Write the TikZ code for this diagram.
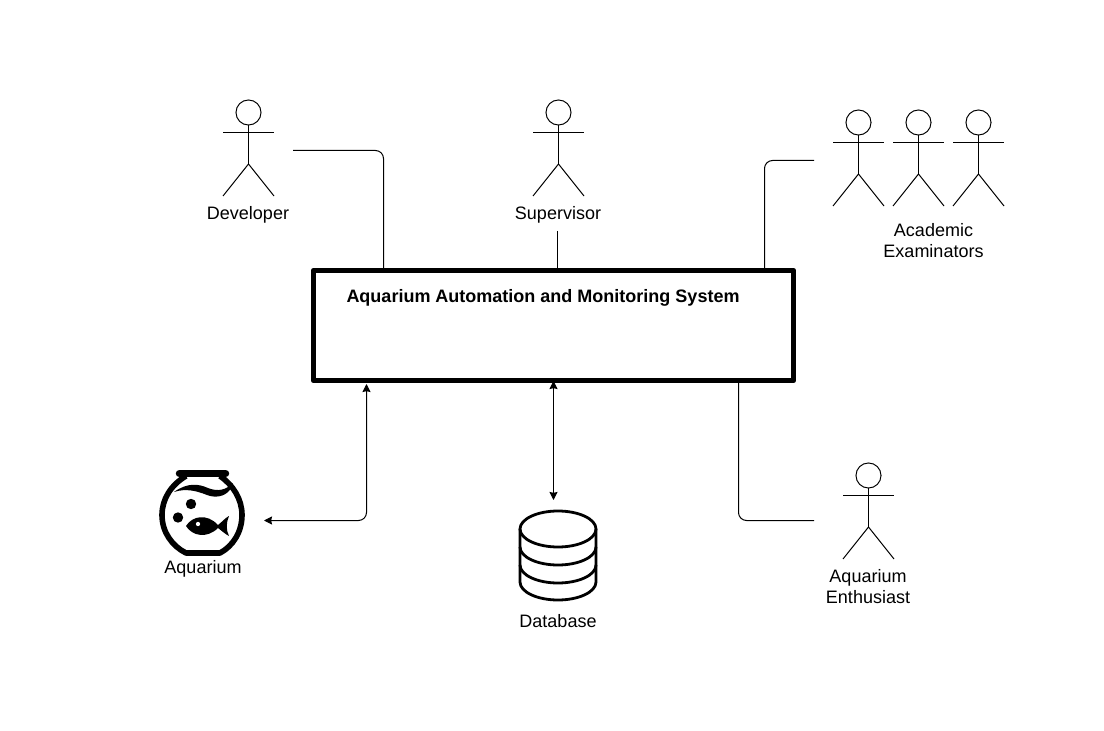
\documentclass[tikz,border=0pt]{standalone}
\usepackage{fontspec}
\setmainfont{Liberation Sans}
\usetikzlibrary {
  positioning,
  arrows.meta,
}
\tikzset{
  chart/.style = {
    x = 0.75pt,
    y = -0.75pt,
    line width = 0.75pt,
    line join = round,
  },
  caption/.style = {
    font = \fontsize{13.5pt}{15.75pt}\selectfont,
    align = center,
    inner sep = 0pt
  },
  sysbox/.style = {
    rectangle,
    draw = black,
    line width = 4.4pt,
    minimum width = 360pt,
    minimum height = 82.5pt
  },
  link/.style = {
    rounded corners = 6pt
  },
  twoway/.style = {
    {Stealth[length = 6pt, width = 6pt, inset = 0.6pt]}-{Stealth[length = 6pt, width = 6pt, inset = 0.6pt]},
    rounded corners = 6pt
  },
  stock/.style = {
    line width = 2.1pt
  },
  pics/actor/.style = {
    code = {
      \draw (0,12.5) circle [radius = 9.4pt];
      \draw (0,25) -- (0,64);
      \draw (-25.5,32.5) -- (25.5,32.5);
      \draw (-25.5,96) -- (0,64) -- (25.5,96);
    }
  },
}

\begin{document}
\begin{tikzpicture}[chart]
  \useasboundingbox (0,0) rectangle (1104,731);

  \node[sysbox] (system) at (553.5,325.5) {};
  \node[caption, font = \fontsize{13.5pt}{15.75pt}\selectfont\bfseries] (title) at (543,298) {Aquarium Automation and Monitoring System};

  % people
  \pic (developer) at (248.5,100) {actor};
  \pic (supervisor) at (558.5,100) {actor};
  \pic (examinerA) at (858.5,110) {actor};
  \pic (examinerB) at (918.5,110) {actor};
  \pic (examinerC) at (978.5,110) {actor};
  \pic (enthusiast) at (868.5,463) {actor};

  \node[caption] (devlabel) at (248,215) {Developer};
  \node[caption] (suplabel) at (558,215) {Supervisor};
  \node[caption] (examlabel) at (933.5,240.5) {Academic\\Examinators};
  \node[caption] (fishlabel) at (203,569) {Aquarium};
  \node[caption] (dblabel) at (558,621) {Database};
  \node[caption] (enthlabel) at (868,586.5) {Aquarium\\Enthusiast};

  % fish bowl
  \draw[line width = 4.2pt] (186,476) .. controls (171,485) and (162,499) .. (162,515)
    .. controls (162,532) and (172,546) .. (186,553) -- (220,553)
    .. controls (233,546) and (242,532) .. (242,515)
    .. controls (242,499) and (233,485) .. (220,476);
  \draw[line width = 5.6pt, line cap = round] (179.5,473.5) -- (225.5,473.5);
  \fill (174,492) .. controls (188,482) and (199,484) .. (208,488)
    .. controls (218,492) and (226,490) .. (233,483)
    .. controls (230,496) and (217,499) .. (207,495)
    .. controls (197,491) and (186,488) .. (174,492) -- cycle;
  \fill (191,504) circle [radius = 3.9pt];
  \fill (178,517.5) circle [radius = 3.9pt];
  \fill (186,526) .. controls (192,516) and (207,513) .. (218,525)
    .. controls (222,522) and (225,518) .. (229,516)
    .. controls (226,523) and (226,530) .. (229,536)
    .. controls (225,534) and (222,531) .. (218,528)
    .. controls (207,539) and (192,536) .. (186,526) -- cycle;
  \fill[white] (198,524) circle [radius = 1.6pt];

  % database
  \draw[stock] (520,529) -- (520,582) arc [start angle = 180, end angle = 360, x radius = 28.5pt, y radius = 13.5pt] -- (596,529);
  \draw[stock] (558,529) ellipse [x radius = 28.5pt, y radius = 13.5pt];
  \draw[stock] (520,547) arc [start angle = 180, end angle = 360, x radius = 28.5pt, y radius = 13.5pt];
  \draw[stock] (520,565) arc [start angle = 180, end angle = 360, x radius = 28.5pt, y radius = 13.5pt];

  % free ends and ports
  \coordinate (devend) at (293,150.5);
  \coordinate (devport) at (383.5,268);
  \coordinate (supend) at (557.5,231);
  \coordinate (support) at (557.5,268);
  \coordinate (examend) at (814,160.5);
  \coordinate (examport) at (764.5,268);
  \coordinate (enthend) at (814,520.5);
  \coordinate (enthport) at (738.5,381);
  \coordinate (fishend) at (264,520.5);
  \coordinate (fishport) at (366.5,384);
  \coordinate (dbend) at (553.5,500);
  \coordinate (dbport) at (553.5,381);

  \draw[link] (devend) -| (devport);
  \draw (supend) -- (support);
  \draw[link] (examend) -| (examport);
  \draw[link] (enthend) -| (enthport);
  \draw[twoway] (fishend) -| (fishport);
  \draw[twoway] (dbend) -- (dbport);
\end{tikzpicture}
\end{document}
